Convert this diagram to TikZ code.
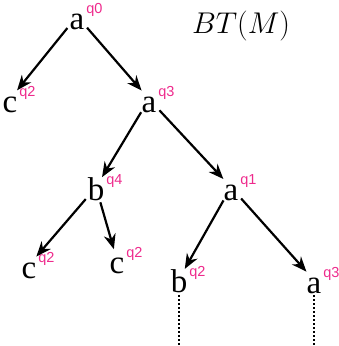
\RequirePackage{fix-cm}
\documentclass[tikz,border=0pt]{standalone}
\usepackage{fontspec}
\setmainfont{Liberation Serif}
\newfontfamily\qfont{Liberation Sans}
\usetikzlibrary{arrows.meta}
\definecolor{qpink}{RGB}{238,42,140}
\newcommand\stlbl[2]{#1\rlap{\hspace{2pt}\raisebox{16pt}{\qfont\fontsize{14.5}{15}\selectfont\color{qpink}#2}}}
\tikzset{
  st/.style={circle, inner sep=0pt, minimum size=28pt, anchor=base, font=\fontsize{33}{34}\selectfont},
  edge/.style={line width=2.2pt, shorten >=-4pt, -{Stealth[length=15pt,width=12pt]}},
}
\begin{document}
\begin{tikzpicture}[x=1pt, y=-1pt]
          \useasboundingbox (0,0) rectangle (338,346); %
          \node[st] (a0) at (77,29) {\stlbl{a}{q0}}; %
          \node[st] (c1) at (10,112) {\stlbl{c}{q2}}; %
          \node[st] (a3) at (149,112) {\stlbl{a}{q3}}; %
          \node[st] (b4) at (96,200) {\stlbl{b}{q4}}; %
          \node[st] (a1) at (231,200) {\stlbl{a}{q1}}; %
          \node[st] (c2) at (29,278) {\stlbl{c}{q2}}; %
          \node[st] (c3) at (117,273) {\stlbl{c}{q2}}; %
          \node[st] (b2) at (179,292) {\stlbl{b}{q2}}; %
          \node[st] (a4) at (314,293) {\stlbl{a}{q3}}; %
          \node[anchor=base, font=\fontsize{30}{34}\selectfont] (bt) at (241,33) {$BT(M)$}; %
          \coordinate (e1) at (179,346); %
          \coordinate (e2) at (314,346); %
          \draw[edge] (a0) -- (c1); %
          \draw[edge] (a0) -- (a3); %
          \draw[edge] (a3) -- (b4); %
          \draw[edge] (a3) -- (a1); %
          \draw[edge] (b4) -- (c2); %
          \draw[edge] (b4) -- (c3); %
          \draw[edge] (a1) -- (b2); %
          \draw[edge] (a1) -- (a4); %
          \draw[line width=2pt, dotted] (b2) -- (e1); %
          \draw[line width=2pt, dotted] (a4) -- (e2); %
        \end{tikzpicture}
\end{document}
